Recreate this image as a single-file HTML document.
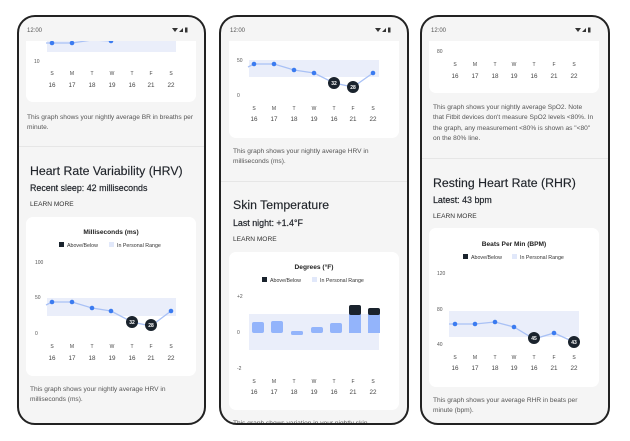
<!DOCTYPE html>
<html><head><meta charset="utf-8"><style>
html,body{margin:0;padding:0;background:#fff;width:630px;height:441px;overflow:hidden}
svg{display:block;font-family:"Liberation Sans",sans-serif}
.t{font-size:6.6px;fill:#555}
.ax{font-size:5px;fill:#555}
.dl{font-size:5px;fill:#444;text-anchor:middle}
.dn{font-size:6.3px;fill:#444;text-anchor:middle}
.h{font-size:12.3px;fill:#1f2329;stroke:#1f2329;stroke-width:0.15}
.s{font-size:8.9px;fill:#1f2329;stroke:#1f2329;stroke-width:0.2}
.lm{font-size:6.6px;fill:#333}
.ct{font-size:6.6px;fill:#222;text-anchor:middle;font-weight:bold}
.lg{font-size:5.3px;fill:#333}
.bt{font-size:5px;fill:#fff;text-anchor:middle;font-weight:bold}
</style></head><body>
<svg width="630" height="441" viewBox="0 0 630 441" xmlns="http://www.w3.org/2000/svg">
<defs>
<clipPath id="c1"><rect x="18" y="16" width="187" height="408" rx="17"/></clipPath>
<clipPath id="c2"><rect x="220" y="16" width="188" height="408" rx="17"/></clipPath>
<clipPath id="c3"><rect x="421" y="16" width="188" height="408" rx="17"/></clipPath>
</defs>

<!-- PHONE 1 -->
<g clip-path="url(#c1)">
<rect x="18" y="16" width="187" height="408" fill="#f5f5f5"/>
<rect x="26" y="30" width="170" height="72" rx="7" fill="#fff"/>
<rect x="47" y="40" width="129" height="12" fill="#eaeefa"/>
<polyline points="46,43 52,43 72,43 92,40 111,41" fill="none" stroke="#a9c1f5" stroke-width="1.3"/>
<circle cx="52" cy="43" r="2.3" fill="#3b7bf0"/><circle cx="72" cy="43" r="2.3" fill="#3b7bf0"/><circle cx="111" cy="41" r="2.3" fill="#3b7bf0"/>
<text class="ax" x="34" y="63">10</text>
<g class="dl"><text x="52" y="75">S</text><text x="72" y="75">M</text><text x="92" y="75">T</text><text x="112" y="75">W</text><text x="132" y="75">T</text><text x="151" y="75">F</text><text x="171" y="75">S</text></g>
<g class="dn"><text x="52" y="87">16</text><text x="72" y="87">17</text><text x="92" y="87">18</text><text x="112" y="87">19</text><text x="132" y="87">16</text><text x="151" y="87">21</text><text x="171" y="87">22</text></g>
<text class="t" x="27" y="119">This graph shows your nightly average BR in breaths per</text>
<text class="t" x="27" y="129">minute.</text>
<rect x="18" y="146" width="187" height="1" fill="#e6e6e6"/>
<text class="h" x="30" y="175">Heart Rate Variability (HRV)</text>
<text class="s" x="30" y="191">Recent sleep: 42 milliseconds</text>
<text class="lm" x="30" y="206">LEARN MORE</text>
<rect x="26" y="217" width="170" height="159" rx="7" fill="#fff"/>
<text class="ct" x="111" y="234">Milliseconds (ms)</text>
<rect x="59" y="242" width="5" height="5" fill="#1a232d"/><text class="lg" x="67" y="247">Above/Below</text>
<rect x="109" y="242" width="5" height="5" fill="#e1e8fa"/><text class="lg" x="117" y="247">In Personal Range</text>
<text class="ax" x="35" y="264">100</text><text class="ax" x="35" y="299">50</text><text class="ax" x="35" y="335">0</text>
<rect x="47" y="298" width="129" height="18" fill="#eaeefa"/>
<polyline points="46,305 52,302 72,302 92,308 111,311 132,322 151,326 171,311" fill="none" stroke="#a9c1f5" stroke-width="1.3"/>
<circle cx="52" cy="302" r="2.3" fill="#3b7bf0"/><circle cx="72" cy="302" r="2.3" fill="#3b7bf0"/><circle cx="92" cy="308" r="2.3" fill="#3b7bf0"/><circle cx="111" cy="311" r="2.3" fill="#3b7bf0"/><circle cx="171" cy="311" r="2.3" fill="#3b7bf0"/>
<circle cx="132" cy="322" r="6" fill="#1a232d"/><text class="bt" x="132" y="324">32</text>
<circle cx="151" cy="325" r="6" fill="#1a232d"/><text class="bt" x="151" y="327">28</text>
<g class="dl"><text x="52" y="348">S</text><text x="72" y="348">M</text><text x="92" y="348">T</text><text x="112" y="348">W</text><text x="132" y="348">T</text><text x="151" y="348">F</text><text x="171" y="348">S</text></g>
<g class="dn"><text x="52" y="360">16</text><text x="72" y="360">17</text><text x="92" y="360">18</text><text x="112" y="360">19</text><text x="132" y="360">16</text><text x="151" y="360">21</text><text x="171" y="360">22</text></g>
<text class="t" x="30" y="391">This graph shows your nightly average HRV in</text>
<text class="t" x="30" y="401">milliseconds (ms).</text>
<rect x="18" y="16" width="187" height="25" fill="#f5f5f5"/>
<text class="ax" x="27" y="32" style="font-size:6px">12:00</text>
<path d="M172,28 l6,0 l-3,4z" fill="#333"/><path d="M179,32 l4,-4 l0,4z" fill="#333"/><rect x="185" y="27.5" width="2.5" height="5" fill="#333"/>
</g>
<rect x="18" y="16" width="187" height="408" rx="17" fill="none" stroke="#222" stroke-width="2"/>

<!-- PHONE 2 -->
<g clip-path="url(#c2)">
<rect x="220" y="16" width="188" height="408" fill="#f5f5f5"/>
<rect x="229" y="30" width="170" height="108" rx="7" fill="#fff"/>
<text class="ax" x="237" y="62">50</text><text class="ax" x="237" y="97">0</text>
<rect x="249" y="60" width="130" height="17" fill="#eaeefa"/>
<polyline points="248,67 254,64 274,64 294,70 314,73 334,83 353,87 373,73" fill="none" stroke="#a9c1f5" stroke-width="1.3"/>
<circle cx="254" cy="64" r="2.3" fill="#3b7bf0"/><circle cx="274" cy="64" r="2.3" fill="#3b7bf0"/><circle cx="294" cy="70" r="2.3" fill="#3b7bf0"/><circle cx="314" cy="73" r="2.3" fill="#3b7bf0"/><circle cx="373" cy="73" r="2.3" fill="#3b7bf0"/>
<circle cx="334" cy="83" r="6" fill="#1a232d"/><text class="bt" x="334" y="85">32</text>
<circle cx="353" cy="87" r="6" fill="#1a232d"/><text class="bt" x="353" y="89">28</text>
<g class="dl"><text x="254" y="110">S</text><text x="274" y="110">M</text><text x="294" y="110">T</text><text x="314" y="110">W</text><text x="334" y="110">T</text><text x="353" y="110">F</text><text x="373" y="110">S</text></g>
<g class="dn"><text x="254" y="121">16</text><text x="274" y="121">17</text><text x="294" y="121">18</text><text x="314" y="121">19</text><text x="334" y="121">16</text><text x="353" y="121">21</text><text x="373" y="121">22</text></g>
<text class="t" x="233" y="153">This graph shows your nightly average HRV in</text>
<text class="t" x="233" y="163">milliseconds (ms).</text>
<rect x="220" y="181" width="188" height="1" fill="#e6e6e6"/>
<text class="h" x="233" y="209">Skin Temperature</text>
<text class="s" x="233" y="226">Last night: +1.4°F</text>
<text class="lm" x="233" y="241">LEARN MORE</text>
<rect x="229" y="252" width="170" height="158" rx="7" fill="#fff"/>
<text class="ct" x="314" y="269">Degrees (°F)</text>
<rect x="262" y="277" width="5" height="5" fill="#1a232d"/><text class="lg" x="270" y="282">Above/Below</text>
<rect x="312" y="277" width="5" height="5" fill="#e1e8fa"/><text class="lg" x="320" y="282">In Personal Range</text>
<text class="ax" x="237" y="298">+2</text><text class="ax" x="237" y="334">0</text><text class="ax" x="237" y="370">-2</text>
<rect x="249" y="314" width="130" height="36" fill="#eaeefa"/>
<g fill="#93b4fb">
<rect x="252" y="322" width="12" height="11" rx="2"/>
<rect x="271" y="321" width="12" height="12" rx="2"/>
<rect x="291" y="331" width="12" height="4" rx="1.5"/>
<rect x="311" y="327" width="12" height="6" rx="2"/>
<rect x="330" y="323" width="12" height="10" rx="2"/>
<rect x="349" y="314" width="12" height="19"/>
<rect x="368" y="314" width="12" height="19"/>
</g>
<rect x="349" y="305" width="12" height="10" rx="2" fill="#1a232d"/>
<rect x="368" y="308" width="12" height="7" rx="2" fill="#1a232d"/>
<g class="dl"><text x="254" y="383">S</text><text x="274" y="383">M</text><text x="294" y="383">T</text><text x="314" y="383">W</text><text x="334" y="383">T</text><text x="353" y="383">F</text><text x="373" y="383">S</text></g>
<g class="dn"><text x="254" y="394">16</text><text x="274" y="394">17</text><text x="294" y="394">18</text><text x="314" y="394">19</text><text x="334" y="394">16</text><text x="353" y="394">21</text><text x="373" y="394">22</text></g>
<text class="t" x="233" y="425">This graph shows variation in your nightly skin</text>
<rect x="220" y="16" width="188" height="25" fill="#f5f5f5"/>
<text class="ax" x="230" y="32" style="font-size:6px">12:00</text>
<path d="M375,28 l6,0 l-3,4z" fill="#333"/><path d="M382,32 l4,-4 l0,4z" fill="#333"/><rect x="388" y="27.5" width="2.5" height="5" fill="#333"/>
</g>
<rect x="220" y="16" width="188" height="408" rx="17" fill="none" stroke="#222" stroke-width="2"/>

<!-- PHONE 3 -->
<g clip-path="url(#c3)">
<rect x="421" y="16" width="188" height="408" fill="#f5f5f5"/>
<rect x="429" y="30" width="170" height="63" rx="7" fill="#fff"/>
<text class="ax" x="437" y="53">80</text>
<g class="dl"><text x="455" y="66">S</text><text x="475" y="66">M</text><text x="495" y="66">T</text><text x="514" y="66">W</text><text x="534" y="66">T</text><text x="554" y="66">F</text><text x="574" y="66">S</text></g>
<g class="dn"><text x="455" y="78">16</text><text x="475" y="78">17</text><text x="495" y="78">18</text><text x="514" y="78">19</text><text x="534" y="78">16</text><text x="554" y="78">21</text><text x="574" y="78">22</text></g>
<text class="t" x="433" y="109">This graph shows your nightly average SpO2. Note</text>
<text class="t" x="433" y="119">that Fitbit devices don't measure SpO2 levels &lt;80%. In</text>
<text class="t" x="433" y="130">the graph, any measurement &lt;80% is shown as "&lt;80"</text>
<text class="t" x="433" y="140">on the 80% line.</text>
<rect x="421" y="158" width="188" height="1" fill="#e6e6e6"/>
<text class="h" x="433" y="187">Resting Heart Rate (RHR)</text>
<text class="s" x="433" y="203">Latest: 43 bpm</text>
<text class="lm" x="433" y="218">LEARN MORE</text>
<rect x="429" y="228" width="170" height="159" rx="7" fill="#fff"/>
<text class="ct" x="514" y="246">Beats Per Min (BPM)</text>
<rect x="463" y="254" width="5" height="5" fill="#1a232d"/><text class="lg" x="471" y="259">Above/Below</text>
<rect x="512" y="254" width="5" height="5" fill="#e1e8fa"/><text class="lg" x="520" y="259">In Personal Range</text>
<text class="ax" x="437" y="275">120</text><text class="ax" x="437" y="311">80</text><text class="ax" x="437" y="346">40</text>
<rect x="449" y="311" width="130" height="26" fill="#eaeefa"/>
<polyline points="449,324 455,324 475,324 495,322 514,327 534,339 554,333 574,342" fill="none" stroke="#a9c1f5" stroke-width="1.3"/>
<circle cx="455" cy="324" r="2.3" fill="#3b7bf0"/><circle cx="475" cy="324" r="2.3" fill="#3b7bf0"/><circle cx="495" cy="322" r="2.3" fill="#3b7bf0"/><circle cx="514" cy="327" r="2.3" fill="#3b7bf0"/><circle cx="554" cy="333" r="2.3" fill="#3b7bf0"/>
<circle cx="534" cy="338" r="6" fill="#1a232d"/><text class="bt" x="534" y="340">45</text>
<circle cx="574" cy="342" r="6" fill="#1a232d"/><text class="bt" x="574" y="344">43</text>
<g class="dl"><text x="455" y="359">S</text><text x="475" y="359">M</text><text x="495" y="359">T</text><text x="514" y="359">W</text><text x="534" y="359">T</text><text x="554" y="359">F</text><text x="574" y="359">S</text></g>
<g class="dn"><text x="455" y="370">16</text><text x="475" y="370">17</text><text x="495" y="370">18</text><text x="514" y="370">19</text><text x="534" y="370">16</text><text x="554" y="370">21</text><text x="574" y="370">22</text></g>
<text class="t" x="433" y="402">This graph shows your average RHR in beats per</text>
<text class="t" x="433" y="412">minute (bpm).</text>
<rect x="421" y="16" width="188" height="25" fill="#f5f5f5"/>
<text class="ax" x="431" y="32" style="font-size:6px">12:00</text>
<path d="M575,28 l6,0 l-3,4z" fill="#333"/><path d="M582,32 l4,-4 l0,4z" fill="#333"/><rect x="588" y="27.5" width="2.5" height="5" fill="#333"/>
</g>
<rect x="421" y="16" width="188" height="408" rx="17" fill="none" stroke="#222" stroke-width="2"/>
</svg>
</body></html>
